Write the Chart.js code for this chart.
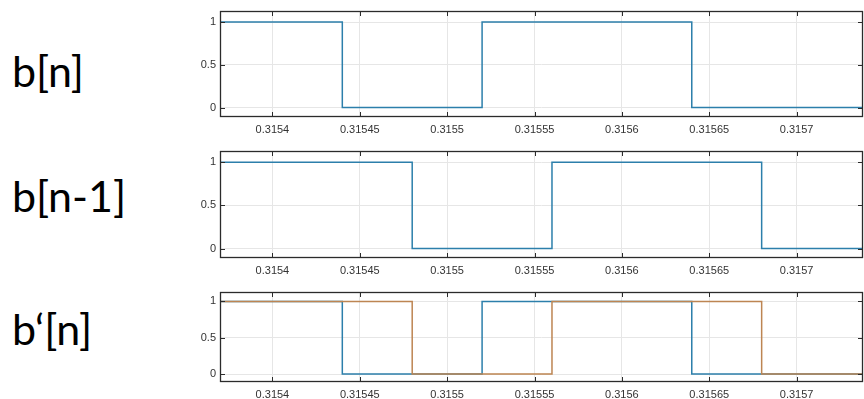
<!DOCTYPE html>
<html>
<head>
<meta charset="utf-8">
<script src="https://cdn.jsdelivr.net/npm/chart.js@4.4.0/dist/chart.umd.min.js"></script>
<style>
  html, body { margin: 0; padding: 0; background: #fff; }
  body { width: 864px; height: 399px; position: relative; overflow: hidden; }
  .sig { position: absolute; left: 12px; font: 43px Lato, "Open Sans", sans-serif; line-height: 1; color: #000; white-space: nowrap; }
  canvas { position: absolute; left: 160px; }
</style>
</head>
<body>
<div class="sig" style="top:49px">b[n]</div>
<div class="sig" style="top:174px">b[n-1]</div>
<div class="sig" style="top:307px">b‘[n]</div>
<canvas id="c1" width="704" height="140" style="top:0"></canvas>
<canvas id="c2" width="704" height="140" style="top:140px"></canvas>
<canvas id="c3" width="704" height="119" style="top:280px"></canvas>
<script>
// axis ticks
const xTickValues = [0.3154, 0.31545, 0.3155, 0.31555, 0.3156, 0.31565, 0.3157];
const xTickLabels = ['0.3154', '0.31545', '0.3155', '0.31555', '0.3156', '0.31565', '0.3157'];
const yTickValues = [0, 0.5, 1];
const yTickLabels = ['0', '0.5', '1'];

// b[n]: time at which each level starts
const bTimes = [0.31535, 0.31544, 0.31552, 0.31564, 0.31575];
const bLevels = [1, 0, 1, 0, 0];
// b[n-1]: the same bits, delayed
const bPrevTimes = [0.31535, 0.31548, 0.31556, 0.31568, 0.31575];
const bPrevLevels = [1, 0, 1, 0, 0];

const X_MIN = 0.31537, X_MAX = 0.315738;
const Y_MIN = -0.11, Y_MAX = 1.13;

const BLUE = '#2c7fab';
const ORANGE = '#bd8552';
const TICK_FONT = {family: '"Liberation Sans", Arial, sans-serif', size: 11};

const toPoints = (times, levels) => times.map((t, i) => ({x: t, y: levels[i]}));

// MATLAB-like box with inward ticks
const frameBox = {
  id: 'frameBox',
  afterDatasetsDraw(chart) {
    const {ctx, chartArea: {left, top, right, bottom}, scales: {x, y}} = chart;
    ctx.save();
    ctx.strokeStyle = '#2b2b2b';
    ctx.lineWidth = 1.3;
    ctx.strokeRect(left + 0.5, top + 0.5, right - left - 1, bottom - top - 1);
    ctx.lineWidth = 1;
    ctx.beginPath();
    x.ticks.forEach(t => {
      const px = Math.round(x.getPixelForValue(t.value)) + 0.5;
      ctx.moveTo(px, bottom); ctx.lineTo(px, bottom - 5);
      ctx.moveTo(px, top); ctx.lineTo(px, top + 5);
    });
    y.ticks.forEach(t => {
      const py = Math.round(y.getPixelForValue(t.value)) + 0.5;
      ctx.moveTo(left, py); ctx.lineTo(left + 5, py);
      ctx.moveTo(right, py); ctx.lineTo(right - 5, py);
    });
    ctx.stroke();
    ctx.restore();
  }
};

function makeChart(id, datasets, padTop, axisH) {
  return new Chart(document.getElementById(id), {
    type: 'line',
    data: {datasets: datasets},
    options: {
      responsive: false,
      animation: false,
      devicePixelRatio: 1,
      layout: {padding: {top: padTop, right: 1, left: 0, bottom: 0}},
      plugins: {legend: {display: false}, tooltip: {enabled: false}},
      elements: {point: {radius: 0}},
      scales: {
        x: {
          type: 'linear', min: X_MIN, max: X_MAX,
          afterBuildTicks: s => { s.ticks = xTickValues.map(v => ({value: v})); },
          afterFit: s => { s.height = axisH; },
          ticks: {callback: (v, i) => xTickLabels[i], font: TICK_FONT, color: '#333', padding: 6, maxRotation: 0, autoSkip: false},
          grid: {color: '#e6e6e6', drawTicks: false},
          border: {display: false}
        },
        y: {
          min: Y_MIN, max: Y_MAX,
          afterBuildTicks: s => { s.ticks = yTickValues.map(v => ({value: v})); },
          afterFit: s => { s.width = 60; },
          ticks: {callback: (v, i) => yTickLabels[i], font: TICK_FONT, color: '#333', padding: 4, autoSkip: false},
          grid: {color: '#e6e6e6', drawTicks: false},
          border: {display: false}
        }
      }
    },
    plugins: [frameBox]
  });
}

const lineStyle = color => ({borderColor: color, borderWidth: 1.5, stepped: true, fill: false});

makeChart('c1', [
  {label: 'b[n]', data: toPoints(bTimes, bLevels), ...lineStyle(BLUE)}
], 11, 23);

makeChart('c2', [
  {label: 'b[n-1]', data: toPoints(bPrevTimes, bPrevLevels), ...lineStyle(BLUE)}
], 11, 22);

// orange drawn over blue, as in the reference
makeChart('c3', [
  {label: 'b[n]', data: toPoints(bTimes, bLevels), ...lineStyle(BLUE), order: 2},
  {label: 'b[n-1]', data: toPoints(bPrevTimes, bPrevLevels), ...lineStyle(ORANGE), order: 1}
], 12, 17);
</script>
</body>
</html>
